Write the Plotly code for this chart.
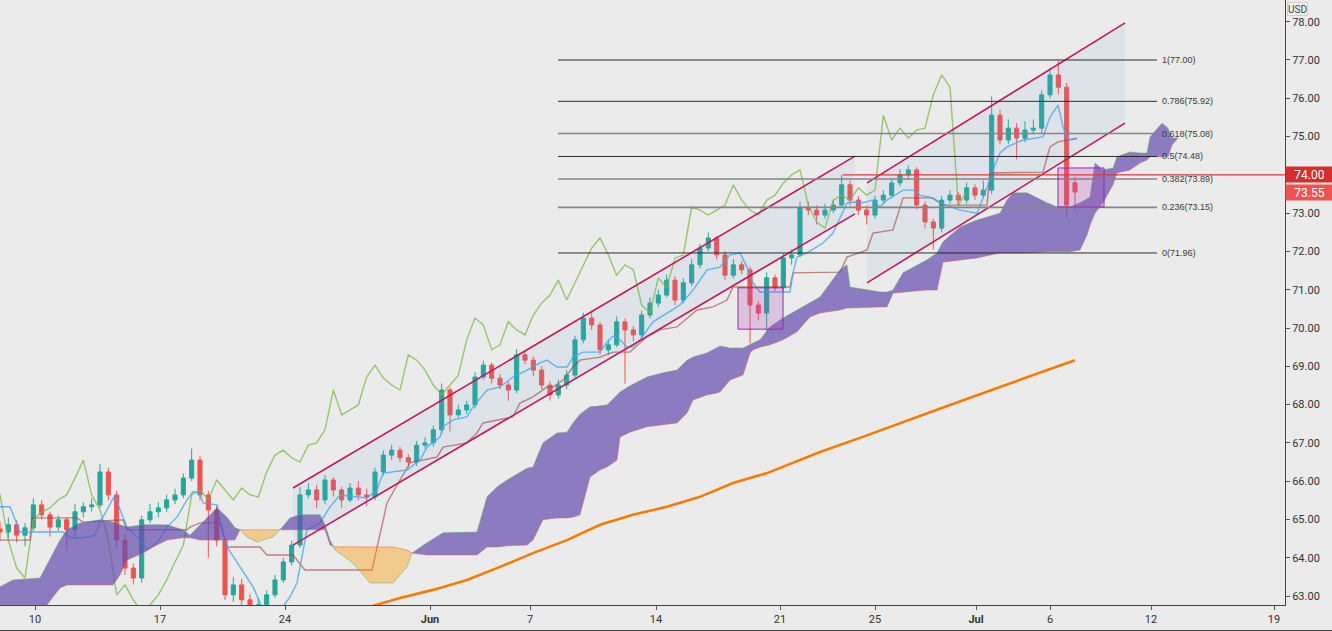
import numpy as np
import plotly.graph_objects as go

# ---------------- time axis (trading days from May 10) ----------------
TICK_POS = [0, 5, 10, 15.8, 19.8, 24.84, 29.8, 33.6, 37.64, 40.6, 44.64, 49.56]
TICK_TEXT = ["10", "17", "24", "<b>Jun</b>", "7", "14", "21", "25", "<b>Jul</b>", "6", "12", "19"]
FIRST_BAR_DAY = -1.4
BARS_PER_DAY = 3

# ---------------- candles ----------------
OPEN = [64.75, 64.67, 64.86, 64.59, 64.78, 65.38, 65.12, 64.80, 64.99, 64.73,
        65.20, 65.33, 65.38, 66.24, 65.64, 64.46, 63.73, 63.47, 64.99, 65.20,
        65.30, 65.51, 65.64, 66.08, 66.55, 65.64, 65.25, 64.46, 63.03, 63.29,
        62.90, 62.58, 62.77, 63.03, 63.42, 63.89, 64.33, 65.64, 65.77, 65.51,
        66.03, 65.77, 65.51, 65.82, 65.64, 65.59, 66.24, 66.68, 66.81, 66.61,
        66.50, 66.94, 67.00, 67.34, 68.38, 67.73, 67.86, 67.99, 68.72, 69.03,
        68.69, 68.51, 68.38, 69.30, 69.16, 68.90, 68.51, 68.25, 68.51, 68.77,
        69.69, 70.26, 70.08, 69.43, 69.56, 70.16, 69.95, 69.82, 70.34, 70.65,
        70.86, 71.25, 70.73, 71.18, 71.65, 72.09, 72.35, 71.91, 71.38, 71.65,
        71.52, 70.60, 70.39, 71.31, 71.05, 71.83, 71.91, 73.16, 73.08, 72.95,
        73.08, 73.21, 73.74, 73.34, 73.08, 72.95, 73.34, 73.47, 73.79, 74.00,
        74.13, 73.21, 72.77, 72.61, 73.34, 73.47, 73.34, 73.66, 73.47, 73.60,
        75.56, 74.91, 75.22, 74.96, 75.17, 75.22, 76.09, 76.61, 76.29, 73.79]
HIGH = [64.95, 65.05, 64.98, 64.90, 65.55, 65.50, 65.20, 65.10, 65.05, 65.40,
        65.45, 65.55, 66.45, 66.35, 65.75, 64.60, 63.85, 65.10, 65.40, 65.45,
        65.65, 65.80, 66.20, 66.85, 66.65, 65.75, 65.35, 64.55, 63.50, 63.45,
        63.05, 62.95, 63.15, 63.55, 64.00, 64.45, 65.85, 65.95, 65.90, 66.15,
        66.10, 65.85, 65.95, 66.00, 65.80, 66.35, 66.80, 66.95, 66.90, 66.70,
        67.05, 67.15, 67.45, 68.55, 68.45, 68.00, 68.10, 68.85, 69.15, 69.10,
        68.80, 68.60, 69.45, 69.40, 69.25, 69.00, 68.60, 68.65, 68.90, 69.80,
        70.40, 70.45, 70.15, 69.70, 70.30, 70.25, 70.05, 70.45, 70.80, 71.00,
        71.40, 71.35, 71.30, 71.80, 72.20, 72.50, 72.40, 72.00, 71.80, 71.75,
        71.60, 70.70, 71.45, 71.40, 71.95, 72.05, 73.30, 73.30, 73.20, 73.25,
        73.35, 74.00, 73.85, 73.45, 73.20, 73.45, 73.60, 73.90, 74.15, 74.25,
        74.20, 73.30, 72.85, 73.45, 73.60, 73.55, 73.80, 73.75, 73.85, 76.05,
        75.70, 75.45, 75.35, 75.40, 75.45, 76.20, 76.80, 76.98, 76.40, 73.95]
LOW = [64.45, 64.50, 64.40, 64.30, 64.70, 65.00, 64.55, 64.70, 64.20, 64.50,
       65.05, 65.20, 65.30, 65.50, 64.25, 63.55, 63.30, 63.35, 64.90, 65.05,
       65.20, 65.40, 65.55, 66.00, 65.50, 64.00, 64.30, 62.90, 62.85, 62.65,
       62.40, 62.45, 62.65, 62.95, 63.35, 63.80, 64.25, 65.55, 65.30, 65.40,
       65.60, 65.30, 65.45, 65.50, 65.35, 65.50, 66.15, 66.55, 66.50, 66.35,
       66.40, 66.85, 66.90, 67.25, 67.30, 67.65, 67.75, 67.90, 68.65, 68.55,
       68.40, 68.10, 68.30, 69.05, 68.75, 68.40, 68.10, 68.15, 68.40, 68.70,
       69.60, 69.95, 69.30, 69.30, 69.50, 68.55, 69.65, 69.75, 70.25, 70.55,
       70.80, 70.60, 70.65, 71.10, 71.55, 72.00, 71.80, 71.25, 71.30, 71.40,
       69.60, 70.20, 69.90, 70.95, 70.95, 71.65, 71.85, 72.95, 72.70, 72.85,
       73.00, 73.15, 73.20, 72.95, 72.70, 72.85, 73.25, 73.40, 73.70, 73.90,
       73.10, 72.60, 72.05, 72.50, 73.25, 73.20, 73.25, 73.35, 73.40, 73.50,
       74.80, 74.80, 74.40, 74.85, 75.05, 75.10, 76.00, 76.10, 72.90, 73.10]
CLOSE = [64.67, 64.86, 64.59, 64.78, 65.38, 65.12, 64.80, 64.99, 64.73, 65.20,
         65.33, 65.38, 66.24, 65.64, 64.46, 63.73, 63.47, 64.99, 65.20, 65.30,
         65.51, 65.64, 66.08, 66.55, 65.64, 65.25, 64.46, 63.03, 63.29, 62.90,
         62.58, 62.77, 63.03, 63.42, 63.89, 64.33, 65.64, 65.77, 65.51, 66.03,
         65.77, 65.51, 65.82, 65.64, 65.59, 66.24, 66.68, 66.81, 66.61, 66.50,
         66.94, 67.00, 67.34, 68.38, 67.73, 67.86, 67.99, 68.72, 69.03, 68.69,
         68.51, 68.38, 69.30, 69.16, 68.90, 68.51, 68.25, 68.51, 68.77, 69.69,
         70.26, 70.08, 69.43, 69.56, 70.16, 69.95, 69.82, 70.34, 70.65, 70.86,
         71.25, 70.73, 71.18, 71.65, 72.09, 72.35, 71.91, 71.38, 71.65, 71.52,
         70.60, 70.39, 71.31, 71.05, 71.83, 71.91, 73.16, 73.08, 72.95, 73.08,
         73.21, 73.74, 73.34, 73.08, 72.95, 73.34, 73.47, 73.79, 74.00, 74.13,
         73.21, 72.77, 72.61, 73.34, 73.47, 73.34, 73.66, 73.47, 73.60, 75.56,
         74.91, 75.22, 74.96, 75.17, 75.22, 76.09, 76.61, 76.29, 73.21, 73.55]

CHIKOU_SHIFT_BARS = 13  # 26 four-hour periods

# ---------------- Ichimoku lines (day, price) ----------------
TENKAN = [(-1.40, 65.33), (-1.00, 65.33), (-0.60, 64.67), (1.12, 64.67), (1.40, 64.52), (1.92, 64.52),
          (2.40, 64.59), (2.60, 64.93), (2.88, 65.25), (3.20, 65.64), (3.40, 65.25), (3.68, 64.80),
          (4.20, 64.46), (4.48, 64.20), (4.88, 64.39), (5.28, 64.80), (5.68, 65.06), (6.08, 65.51),
          (6.32, 65.72), (6.60, 65.69), (6.72, 65.43), (7.28, 65.38), (7.40, 64.99), (7.68, 64.28),
          (8.20, 63.76), (8.72, 63.24), (9.40, 62.24), (10.20, 62.98), (10.48, 63.34), (10.60, 63.76),
          (10.88, 64.73), (11.40, 64.91), (11.80, 65.33), (12.20, 65.64), (12.88, 65.59), (13.28, 65.56),
          (13.68, 65.77), (13.92, 66.21), (14.88, 66.29), (15.40, 66.55), (15.68, 66.89), (16.20, 67.15),
          (16.32, 67.42), (16.72, 67.60), (17.28, 67.68), (17.52, 67.94), (18.08, 68.38), (18.60, 68.46),
          (19.12, 68.72), (19.68, 68.90), (20.20, 69.09), (20.48, 69.16), (20.88, 68.98), (21.28, 68.98),
          (21.52, 69.24), (21.92, 69.37), (22.60, 69.37), (22.88, 69.63), (23.12, 69.79), (23.40, 69.69),
          (23.68, 69.50), (23.92, 69.50), (24.20, 69.69), (24.72, 70.16), (25.28, 70.39), (25.80, 70.60),
          (26.32, 70.99), (26.88, 71.52), (27.40, 71.59), (27.80, 71.91), (28.20, 71.96), (28.48, 71.59),
          (28.72, 71.18), (29.00, 70.94), (30.20, 70.94), (30.32, 71.44), (30.48, 71.85), (30.88, 71.96),
          (31.52, 72.22), (31.92, 72.48), (32.48, 73.27), (32.72, 73.29), (33.12, 73.27), (33.52, 73.34),
          (33.80, 73.16), (34.08, 73.34), (34.72, 73.60), (35.12, 73.60), (35.40, 73.47), (35.80, 73.42),
          (36.20, 73.27), (37.00, 73.08), (37.68, 73.00), (38.08, 73.66), (38.32, 74.13), (38.60, 74.57),
          (38.88, 74.73), (39.52, 74.91), (40.32, 74.99), (40.60, 75.51), (40.92, 75.82), (41.12, 75.25),
          (41.32, 74.91), (41.68, 74.94)]

KIJUN = [(-1.40, 64.46), (-0.20, 64.46), (-0.12, 65.04), (1.68, 65.04), (1.92, 64.93), (3.52, 64.99),
         (3.68, 64.73), (6.08, 64.73), (6.20, 64.80), (6.60, 64.91), (7.40, 64.91), (7.68, 64.28),
         (9.00, 64.28), (9.28, 64.07), (10.32, 64.07), (10.80, 63.68), (13.48, 63.68), (14.08, 65.43),
         (14.60, 66.03), (15.00, 66.48), (16.08, 66.63), (16.32, 66.89), (17.28, 67.00), (17.68, 67.26),
         (17.92, 67.52), (19.12, 67.68), (19.40, 68.04), (19.92, 68.20), (20.48, 68.46), (20.72, 68.46),
         (21.12, 68.64), (21.52, 68.98), (21.80, 69.16), (22.60, 69.24), (23.12, 69.37), (23.80, 69.37),
         (24.20, 69.61), (24.48, 69.77), (25.00, 69.95), (25.68, 70.03), (26.48, 70.47), (27.12, 70.55),
         (27.68, 70.73), (27.92, 71.07), (30.20, 71.07), (30.32, 71.44), (32.20, 71.46), (32.48, 71.85),
         (33.28, 72.04), (33.52, 72.48), (34.32, 72.56), (34.72, 73.40), (35.92, 73.40), (36.32, 73.21),
         (38.08, 73.21), (38.20, 74.05), (40.32, 74.07), (40.60, 74.73), (40.92, 74.86), (41.68, 74.96)]

# cloud: (day, senkou A, senkou B)
CLOUD = [(-1.40, 63.24, 62.64), (-0.88, 63.42, 62.64), (0.20, 63.47, 62.64), (0.48, 63.81, 62.77),
         (0.80, 64.20, 63.03), (1.00, 64.46, 63.21), (1.28, 64.73, 63.29), (1.80, 64.91, 63.29),
         (2.60, 64.99, 63.29), (3.12, 64.93, 63.29), (3.40, 64.86, 63.55), (3.68, 64.80, 63.94),
         (4.32, 64.86, 64.12), (4.72, 64.86, 64.28), (5.28, 64.86, 64.46), (5.92, 64.73, 64.52),
         (6.20, 64.59, 64.52), (6.60, 64.86, 64.46), (6.88, 65.04, 64.46), (7.28, 65.30, 64.46),
         (7.68, 65.06, 64.46), (8.00, 64.78, 64.46), (8.20, 64.73, 64.73), (8.48, 64.54, 64.73),
         (8.88, 64.41, 64.73), (9.52, 64.54, 64.73), (9.80, 64.73, 64.73), (10.20, 65.04, 64.73),
         (10.60, 65.12, 64.73), (11.40, 65.12, 64.73), (11.60, 64.86, 64.73), (11.80, 64.46, 64.33),
         (12.00, 64.20, 64.28), (12.72, 63.86, 64.28), (13.40, 63.34, 64.28), (14.32, 63.34, 64.28),
         (14.88, 63.76, 64.20), (15.08, 64.12, 64.12), (15.68, 64.39, 64.07), (16.32, 64.65, 64.07),
         (17.68, 64.67, 64.07), (18.08, 65.59, 64.28), (18.48, 65.85, 64.28), (18.88, 66.03, 64.31),
         (19.68, 66.34, 64.33), (19.92, 66.37, 64.46), (20.32, 67.00, 64.99), (20.88, 67.26, 65.04),
         (21.28, 67.28, 65.04), (21.52, 67.52, 65.06), (21.80, 67.75, 65.12), (22.20, 67.94, 66.11),
         (22.60, 67.96, 66.29), (22.88, 67.99, 66.37), (23.28, 68.25, 66.55), (23.40, 68.33, 67.15),
         (23.80, 68.49, 67.28), (24.48, 68.72, 67.42), (25.12, 68.83, 67.47), (25.68, 68.90, 67.52),
         (26.08, 69.16, 67.78), (26.32, 69.24, 68.12), (26.88, 69.35, 68.25), (27.28, 69.50, 68.30),
         (27.40, 69.53, 68.33), (27.80, 69.48, 68.64), (28.32, 69.48, 68.77), (28.48, 69.53, 69.09),
         (28.60, 69.56, 69.35), (28.72, 69.61, 69.43), (29.00, 69.69, 69.50), (29.40, 70.03, 69.56),
         (29.92, 70.26, 69.69), (30.48, 70.47, 69.90), (31.00, 70.68, 70.29), (31.40, 70.81, 70.39),
         (32.20, 71.52, 70.47), (32.48, 71.65, 70.52), (32.60, 71.07, 70.52), (33.80, 70.94, 70.55),
         (34.08, 70.94, 70.55), (34.32, 70.99, 70.91), (34.72, 71.44, 70.94), (35.12, 71.59, 70.96),
         (35.68, 71.78, 70.99), (36.08, 71.96, 70.99), (36.32, 72.25, 71.72), (37.00, 72.64, 71.78),
         (37.68, 72.82, 71.83), (38.60, 73.00, 71.96), (38.88, 73.34, 71.96), (39.12, 73.53, 71.96),
         (39.68, 73.53, 71.96), (40.48, 73.27, 71.99), (40.88, 73.16, 71.99), (41.40, 73.16, 71.99),
         (41.80, 73.27, 72.04), (42.08, 73.37, 72.43), (42.20, 73.42, 72.69), (42.40, 74.31, 73.00),
         (42.72, 74.13, 73.27), (43.12, 74.18, 73.74), (43.28, 74.47, 74.05), (43.80, 74.60, 74.13),
         (44.20, 74.57, 74.31), (44.48, 74.57, 74.39), (44.60, 74.99, 74.47), (45.08, 75.35, 74.47),
         (45.32, 75.22, 74.47), (45.48, 74.96, 74.78), (45.72, 74.96, 74.96)]

# 200-period moving average (day, price)
MA200 = [(12.0, 62.45), (13.80, 62.79), (14.60, 62.95), (15.92, 63.16), (17.28, 63.42), (18.60, 63.76),
         (19.92, 64.12), (21.28, 64.46), (22.60, 64.86), (23.92, 65.12), (25.28, 65.33), (26.60, 65.59),
         (27.92, 65.95), (29.28, 66.21), (30.60, 66.55), (31.40, 66.76), (33.00, 67.13), (34.60, 67.52),
         (36.60, 67.99), (38.60, 68.46), (40.20, 68.83), (41.60, 69.16)]

# ---------------- drawings ----------------
# parallel channels: (day start, day end, upper start, upper end, lower start, lower end)
CHANNELS = [(10.32, 32.80, 65.82, 74.49, 64.33, 72.98),
            (33.28, 43.60, 73.79, 77.97, 71.18, 75.35)]
FIB_START, FIB_END = 20.92, 44.88
FIB_RATIOS = ["1", "0.786", "0.618", "0.5", "0.382", "0.236", "0"]
FIB_PRICES = [77.00, 75.92, 75.08, 74.48, 73.89, 73.15, 71.96]
FIB_GRAY = ["0.618", "0.382", "0.236"]
LEVEL_LINE = (32.32, 74.00)
BOXES = [(28.12, 29.92, 69.97, 71.05), (40.92, 42.76, 73.16, 74.18)]
LAST_PRICE = 73.55
Y_TICKS = [63, 64, 65, 66, 67, 68, 69, 70, 71, 72, 73, 75, 76, 77, 78]  # 74 sits under the level label

Y_RANGE = [62.765, 78.567]
X_RANGE = [-1.4, 50.0]

# ---------------- figure ----------------
fig = go.Figure()
N = len(CLOSE)
bar_x = FIRST_BAR_DAY + np.arange(N) / BARS_PER_DAY

# channel fills
for (x0, x1, u0, u1, l0, l1) in CHANNELS:
    fig.add_trace(go.Scatter(x=[x0, x1, x1, x0, x0], y=[u0, u1, l1, l0, u0], mode="lines",
                             fill="toself", fillcolor="rgba(110,160,215,0.11)",
                             line=dict(width=0), hoverinfo="skip"))

# MA
fig.add_trace(go.Scatter(x=[p[0] for p in MA200], y=[p[1] for p in MA200], mode="lines",
                         line=dict(color="#f57c00", width=2.6), hoverinfo="skip"))

# ichimoku lines
fig.add_trace(go.Scatter(x=bar_x - CHIKOU_SHIFT_BARS / BARS_PER_DAY, y=CLOSE, mode="lines",
                         line=dict(color="rgba(120,185,70,0.75)", width=1.4), hoverinfo="skip"))
fig.add_trace(go.Scatter(x=[p[0] for p in KIJUN], y=[p[1] for p in KIJUN], mode="lines",
                         line=dict(color="rgba(160,60,55,0.6)", width=1.4), hoverinfo="skip"))
fig.add_trace(go.Scatter(x=[p[0] for p in TENKAN], y=[p[1] for p in TENKAN], mode="lines",
                         line=dict(color="rgba(66,165,245,0.8)", width=1.4), hoverinfo="skip"))

# cloud
cx = np.array([c[0] for c in CLOUD])
ca = np.array([c[1] for c in CLOUD])
cb = np.array([c[2] for c in CLOUD])
diff = ca - cb
runs = []
sign = diff[0] >= 0
rx, ra, rb = [cx[0]], [ca[0]], [cb[0]]
for i in range(1, len(cx)):
    s = diff[i] >= 0
    if s != sign:
        d0, d1 = diff[i - 1], diff[i]
        t = d0 / (d0 - d1) if d0 != d1 else 0.0
        xc = cx[i - 1] + t * (cx[i] - cx[i - 1])
        yc = ca[i - 1] + t * (ca[i] - ca[i - 1])
        rx.append(xc); ra.append(yc); rb.append(yc)
        runs.append((sign, rx, ra, rb))
        rx, ra, rb = [xc], [yc], [yc]
        sign = s
    rx.append(cx[i]); ra.append(ca[i]); rb.append(cb[i])
runs.append((sign, rx, ra, rb))
for s, rx, ra, rb in runs:
    px = list(rx) + list(rx[::-1])
    py = list(ra) + list(rb[::-1])
    fig.add_trace(go.Scatter(x=px, y=py, mode="lines", fill="toself",
                             fillcolor="rgba(100,75,175,0.7)" if s else "rgba(255,152,0,0.4)",
                             line=dict(width=0), hoverinfo="skip"))
fig.add_trace(go.Scatter(x=cx, y=ca, mode="lines", line=dict(color="rgba(76,175,80,0.45)", width=1),
                         hoverinfo="skip"))
fig.add_trace(go.Scatter(x=cx, y=cb, mode="lines", line=dict(color="rgba(239,83,80,0.45)", width=1),
                         hoverinfo="skip"))

# candles
fig.add_trace(go.Candlestick(x=bar_x, open=OPEN, high=HIGH, low=LOW, close=CLOSE,
                             increasing=dict(line=dict(color="#26a69a", width=1), fillcolor="#26a69a"),
                             decreasing=dict(line=dict(color="#ef5350", width=1), fillcolor="#ef5350"),
                             whiskerwidth=0, hoverinfo="skip"))

# channel lines
for (x0, x1, u0, u1, l0, l1) in CHANNELS:
    fig.add_trace(go.Scatter(x=[x0, x1], y=[u0, u1], mode="lines",
                             line=dict(color="#c2185b", width=1.6), hoverinfo="skip"))
    fig.add_trace(go.Scatter(x=[x0, x1], y=[l0, l1], mode="lines",
                             line=dict(color="#c2185b", width=1.6), hoverinfo="skip"))

# fib lines
for r, p in zip(FIB_RATIOS, FIB_PRICES):
    gray = r in FIB_GRAY
    fig.add_shape(type="line", x0=FIB_START, x1=FIB_END, y0=p, y1=p, xref="x", yref="y",
                  line=dict(color="#858585" if gray else "#2b2b2b", width=1.6 if gray else 1))
    fig.add_annotation(x=FIB_END, y=p, xref="x", yref="y", text=f"{r}({p:.2f})", showarrow=False,
                       xanchor="left", xshift=3, font=dict(family="Liberation Sans", size=9, color="#3a3a3a"))

# boxes
for (x0, x1, y0, y1) in BOXES:
    fig.add_shape(type="rect", x0=x0, x1=x1, y0=y0, y1=y1, xref="x", yref="y",
                  fillcolor="rgba(171,71,188,0.25)", line=dict(color="#9c27b0", width=1))

# level line
fig.add_shape(type="line", x0=LEVEL_LINE[0], x1=X_RANGE[1], y0=LEVEL_LINE[1], y1=LEVEL_LINE[1],
              xref="x", yref="y", line=dict(color="#e53935", width=1.3))

# price labels on axis
for val, col in [(LEVEL_LINE[1], "#d32f2f"), (LAST_PRICE, "#ef5350")]:
    fig.add_annotation(x=1, xref="paper", y=val, yref="y", xanchor="left", text=f"{val:.2f}",
                       showarrow=False, bgcolor=col, width=47, height=15, borderpad=0,
                       font=dict(family="Roboto", size=12, color="white"))
fig.add_annotation(x=1.0179, xref="paper", y=1 - 8.5 / 605, yref="paper", yanchor="middle",
                   text="USD", showarrow=False, height=12,
                   bgcolor="#efefef", bordercolor="#cfcfcf", borderwidth=1, borderpad=0,
                   font=dict(family="Roboto", size=10, color="#444"))

# outer bottom border
fig.add_shape(type="line", xref="paper", yref="paper", x0=0, x1=1332 / 1285, y0=-25.5 / 605, y1=-25.5 / 605,
              line=dict(color="#444", width=1))

fig.update_layout(
    width=1332, height=631, margin=dict(l=0, r=47, t=0, b=26),
    paper_bgcolor="#ebebeb", plot_bgcolor="#ebebeb", showlegend=False,
    xaxis=dict(range=X_RANGE, tickvals=TICK_POS, ticktext=TICK_TEXT, ticks="outside", ticklen=4,
               tickcolor="#555", showgrid=False, zeroline=False, showline=True, linecolor="#444",
               mirror=True, tickfont=dict(family="Roboto", size=11, color="#333"),
               rangeslider=dict(visible=False), fixedrange=True),
    yaxis=dict(range=Y_RANGE, side="right", tickvals=Y_TICKS,
               ticktext=[f"{v:.2f}" for v in Y_TICKS], ticks="outside", ticklen=4,
               tickcolor="#555", showgrid=False, zeroline=False, showline=True, linecolor="#444",
               mirror=True, tickfont=dict(family="Roboto", size=11, color="#333"), fixedrange=True),
)

fig.write_html("out.html")
